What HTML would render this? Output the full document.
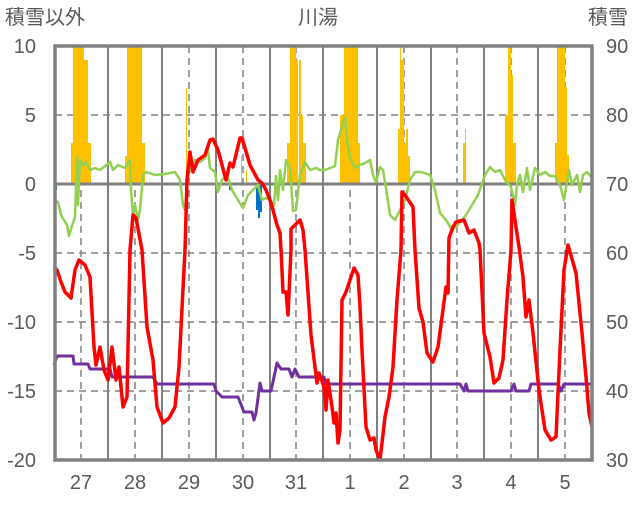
<!DOCTYPE html>
<html><head><meta charset="utf-8"><style>
body{margin:0;background:#fff;}
text{font-family:"Liberation Sans","Noto Sans CJK JP",sans-serif;fill:#595959;font-size:20px;}
</style></head><body>
<svg width="636" height="501" viewBox="0 0 636 501" xmlns="http://www.w3.org/2000/svg">
<rect width="636" height="501" fill="#fff"/>
<!-- grid -->
<g stroke="#808080" stroke-width="1.5" stroke-dasharray="7,5">
<line x1="55" y1="115" x2="592" y2="115"/>
<line x1="55" y1="253" x2="592" y2="253"/>
<line x1="55" y1="322" x2="592" y2="322"/>
<line x1="55" y1="391" x2="592" y2="391"/>
<line x1="81" y1="46" x2="81" y2="460"/><line x1="135" y1="46" x2="135" y2="460"/>
<line x1="189" y1="46" x2="189" y2="460"/><line x1="243" y1="46" x2="243" y2="460"/>
<line x1="296" y1="46" x2="296" y2="460"/><line x1="350" y1="46" x2="350" y2="460"/>
<line x1="404" y1="46" x2="404" y2="460"/><line x1="457" y1="46" x2="457" y2="460"/>
<line x1="511" y1="46" x2="511" y2="460"/><line x1="565" y1="46" x2="565" y2="460"/>
</g>
<g stroke="#808080" stroke-width="2">
<line x1="108" y1="46" x2="108" y2="460"/><line x1="162" y1="46" x2="162" y2="460"/>
<line x1="216" y1="46" x2="216" y2="460"/><line x1="270" y1="46" x2="270" y2="460"/>
<line x1="323" y1="46" x2="323" y2="460"/><line x1="377" y1="46" x2="377" y2="460"/>
<line x1="431" y1="46" x2="431" y2="460"/><line x1="484" y1="46" x2="484" y2="460"/>
<line x1="538" y1="46" x2="538" y2="460"/>
</g>
<!-- orange bars -->
<g fill="#FFC000">
<rect x="71" y="143" width="2" height="41"/><rect x="73" y="46" width="11" height="138"/><rect x="84" y="60" width="4" height="124"/><rect x="88" y="143" width="3" height="41"/>
<rect x="125" y="156" width="2" height="28"/><rect x="127" y="46" width="15" height="138"/><rect x="142" y="143" width="3" height="41"/>
<rect x="186" y="88" width="1" height="96"/><rect x="241" y="156" width="1" height="28"/><rect x="246" y="170" width="1" height="14"/>
<rect x="287" y="143" width="3" height="41"/><rect x="290" y="46" width="6" height="138"/><rect x="296" y="60" width="2" height="124"/><rect x="299" y="60" width="2" height="124"/><rect x="301" y="115" width="2" height="69"/><rect x="303" y="143" width="3" height="41"/>
<rect x="340" y="115" width="4" height="69"/><rect x="344" y="46" width="14" height="138"/><rect x="358" y="143" width="2" height="41"/>
<rect x="398" y="129" width="2" height="55"/><rect x="400" y="46" width="1" height="138"/><rect x="401" y="60" width="2" height="124"/><rect x="403" y="60" width="1" height="124"/><rect x="404" y="143" width="2" height="41"/><rect x="406" y="129" width="2" height="55"/><rect x="408" y="156" width="2" height="28"/>
<rect x="463" y="143" width="2" height="41"/><rect x="465" y="129" width="1" height="55"/>
<rect x="505" y="115" width="3" height="69"/><rect x="508" y="46" width="3" height="138"/><rect x="511" y="75" width="2" height="109"/><rect x="513" y="143" width="3" height="41"/>
<rect x="555" y="143" width="2" height="41"/><rect x="557" y="46" width="8" height="138"/><rect x="565" y="87" width="2" height="97"/><rect x="567" y="155" width="2" height="29"/>
</g>
<g fill="#0070C0">
<rect x="55" y="184" width="2" height="6"/><rect x="229" y="184" width="2" height="6"/>
<rect x="256" y="184" width="2" height="26"/><rect x="258" y="184" width="2" height="34"/><rect x="260" y="184" width="2" height="28"/>
</g>
<!-- zero line -->
<line x1="55" y1="184" x2="592" y2="184" stroke="#808080" stroke-width="3"/>
<!-- green -->
<polyline fill="none" stroke="#92D050" stroke-width="2.5" stroke-linejoin="round" points="54,200 58,202 61,215 64,220 67,225 69,236 72,226 75,217 77,157 78,205 80,160 83,165 86,162 90,170 95,168 100,170 105,166 110,162 113,170 118,165 125,168 130,160 131,190 133,215 135,205 138,220 140,210 143,175 146,172 155,175 165,174 175,172 180,180 183,205 185,210 188,175 195,160 200,162 205,158 208,150 210,168 215,172 218,192 222,180 227,175 232,190 238,200 243,208 248,195 255,188 258,185 262,200 266,198 270,200 274,206 276,176 278,200 280,170 283,190 286,160 290,168 293,211 296,210 300,175 305,162 310,170 316,168 320,170 325,170 330,168 335,166 338,140 341,130 345,117 347,140 350,158 355,168 360,165 365,163 370,160 373,175 376,182 380,167 383,170 386,188 390,215 395,220 400,210 405,200 410,180 415,172 421,172 430,175 435,190 440,213 446,220 452,230 458,225 462,220 466,215 472,205 478,195 485,175 490,167 495,172 500,170 505,180 511,187 515,205 517,185 520,175 523,192 527,168 530,190 535,168 540,175 545,172 550,176 555,176 560,185 564,200 569,170 572,185 577,175 580,192 583,175 587,172 592,178"/>
<!-- purple -->
<polyline fill="none" stroke="#7030A0" stroke-width="3" stroke-linejoin="round" points="54,365 57,356 73,356 74,364 88,364 90,369 110,369 112,377 153,377 157,384 214,384 216,391 222,397 238,397 242,407 244,412 252,412 254,420 256,413 260,383 262,391 271,391 277,363 281,369 289,369 292,377 295,369 299,377 324,377 326,384 460,384 464,391 466,384 468,391 511,391 514,384 516,391 529,391 531,384 558,384 561,391 564,384 592,384"/>
<!-- red -->
<polyline fill="none" stroke="#FF0000" stroke-width="3.5" stroke-linejoin="round" points="54,267 57,270 61,282 65,292 71,298 75,270 79,260 85,265 90,277 94,347 96,365 100,347 104,370 108,380 112,347 116,380 119,367 123,407 127,397 130,250 133,215 136,218 142,250 147,327 153,360 157,407 163,423 169,418 175,407 179,367 185,250 187,180 190,152 193,172 198,160 205,155 210,140 213,139 218,150 222,165 226,180 230,163 233,167 240,138 242,138 250,165 258,180 262,183 266,190 270,200 273,210 277,225 280,233 281,250 283,292 286,292 288,315 291,250 291,229 300,220 303,230 305,250 311,335 317,383 319,373 324,387 326,410 328,380 332,407 334,423 336,413 338,443 340,430 342,300 346,292 350,280 354,268 358,275 360,307 362,350 366,427 370,440 374,438 376,450 380,460 385,417 389,397 393,367 397,300 401,250 402,192 405,195 413,207 415,250 419,308 423,322 427,353 433,362 438,347 442,317 446,287 448,293 449,238 453,227 456,222 464,220 469,233 474,230 479,243 480,250 484,333 490,357 494,383 499,378 503,360 507,300 511,250 512,200 519,247 523,277 526,317 529,300 533,333 539,390 545,430 551,440 556,437 560,350 564,270 568,245 576,273 582,333 586,377 589,413 592,427"/>
<!-- frame -->
<rect x="55" y="46" width="537" height="414" fill="none" stroke="#808080" stroke-width="3.5"/>
<!-- labels -->
<text x="5" y="24">積雪以外</text>
<text x="318" y="24" text-anchor="middle">川湯</text>
<text x="628" y="24" text-anchor="end">積雪</text>
<g text-anchor="end">
<text x="36" y="53">10</text><text x="36" y="122">5</text><text x="36" y="191">0</text>
<text x="36" y="260">-5</text><text x="36" y="329">-10</text><text x="36" y="398">-15</text><text x="36" y="467">-20</text>
</g>
<g>
<text x="606" y="53">90</text><text x="606" y="122">80</text><text x="606" y="191">70</text>
<text x="606" y="260">60</text><text x="606" y="329">50</text><text x="606" y="398">40</text><text x="606" y="467">30</text>
</g>
<g text-anchor="middle">
<text x="81" y="489">27</text><text x="135" y="489">28</text><text x="189" y="489">29</text><text x="243" y="489">30</text><text x="296" y="489">31</text>
<text x="350" y="489">1</text><text x="404" y="489">2</text><text x="457" y="489">3</text><text x="511" y="489">4</text><text x="565" y="489">5</text>
</g>
</svg>
</body></html>
